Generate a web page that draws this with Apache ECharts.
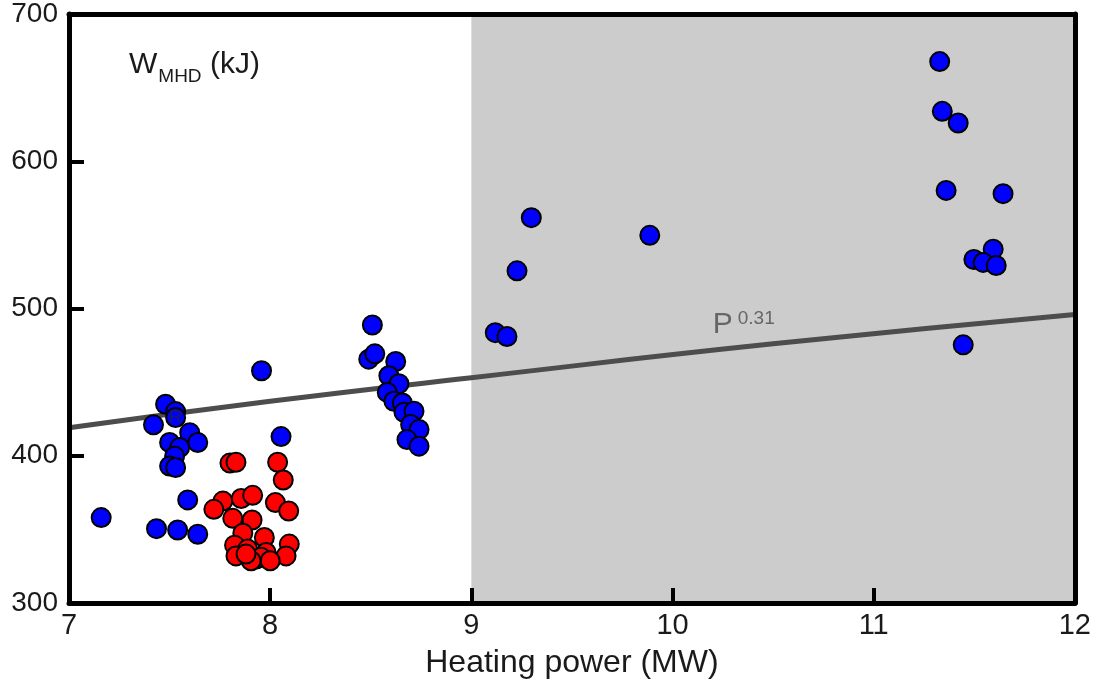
<!DOCTYPE html>
<html><head><meta charset="utf-8">
<script src="https://cdn.jsdelivr.net/npm/echarts@6/dist/echarts.min.js"></script>
<style>html,body{margin:0;padding:0;background:#fff}#c{width:1094px;height:684px}</style>
</head><body><div id="c"></div>
<script>
// Data
const xTicks = [7, 8, 9, 10, 11, 12];
const yTicks = [300, 400, 500, 600, 700];
const blueGroup = [
  [7.16,358],[7.435,350.5],[7.54,349.6],[7.64,346.7],[7.59,370],
  [7.42,421],[7.48,435],[7.60,415.7],[7.64,409],[7.50,409],[7.55,405.6],
  [7.525,399.7],[7.50,393],[7.53,392],[7.53,430],
  [7.957,457.7],[8.054,413],
  [8.508,488.8],[8.49,465.6],[8.52,469.2],[8.624,464],[8.59,454.3],[8.64,448.9],
  [8.582,443],[8.615,437],[8.657,435.8],[8.665,429.5],[8.715,430.2],[8.698,421.2],
  [8.74,417.8],[8.68,411],[8.74,406.5],
  [9.298,561.7],[9.227,525.6],[9.119,483.6],[9.177,481],[9.887,549.7],
  [11.328,667.7],[11.341,633.9],[11.42,626],[11.36,580.2],[11.643,578],
  [11.594,540.3],[11.498,533.3],[11.544,531.3],[11.609,529.2],[11.445,475.3]
];
const bluePointR = [[7.53,426]];
const redGroup = [
  [7.80,395],[7.83,395.6],[8.037,395.6],[8.065,383.5],
  [7.765,369.2],[7.72,363.6],[7.856,371],[7.913,373.1],[8.026,368.2],[8.092,362.5],
  [7.814,357.5],[7.91,356.4],[7.864,347.4],[7.971,344.5],[7.823,339.3],[7.888,336.6],
  [8.095,340],[8.079,332],[7.83,332],[7.93,329.8],[7.98,334.3],[7.955,331],
  [8.0,328.7],[7.905,328.7],[7.88,333.2]
];
const fitLine = [[7,419],[8,437],[9,453],[10.5,476],[12,496]];
const shadedRange = [9, 12];

const chart = echarts.init(document.getElementById('c'));
const font = 'Arial, "Liberation Sans", sans-serif';
const dot = (color) => ({
  type: 'scatter', symbol: 'circle', symbolSize: 19, z: 4,
  itemStyle: { color: color, borderColor: '#000', borderWidth: 2, opacity: 1 }
});
chart.setOption({
  animation: false,
  backgroundColor: '#fff',
  grid: { left: 69, right: 16, top: 13, bottom: 79, show: false },
  xAxis: [{
    type: 'value', min: 7, max: 12, interval: 1, z: 10,
    name: 'Heating power (MW)', nameLocation: 'middle', nameGap: 44,
    nameTextStyle: { fontFamily: font, fontSize: 32, color: '#1a1a1a' },
    axisLine: { show: true, onZero: false, lineStyle: { color: '#000', width: 5 } },
    axisTick: { show: true, inside: true, length: 15, lineStyle: { color: '#000', width: 4 } },
    axisLabel: { fontFamily: font, fontSize: 29, color: '#1a1a1a', margin: 8 },
    splitLine: { show: false }
  }, {
    type: 'value', min: 7, max: 12, position: 'top', z: 10,
    axisLine: { show: true, onZero: false, lineStyle: { color: '#000', width: 5 } },
    axisTick: { show: false }, axisLabel: { show: false }, splitLine: { show: false }
  }],
  yAxis: [{
    type: 'value', min: 300, max: 700, interval: 100, z: 10,
    axisLine: { show: true, onZero: false, lineStyle: { color: '#000', width: 5 } },
    axisTick: { show: true, inside: true, length: 15, lineStyle: { color: '#000', width: 4 } },
    axisLabel: { fontFamily: font, fontSize: 28, color: '#1a1a1a', margin: 11, padding: [6, 0, 0, 0] },
    splitLine: { show: false }
  }, {
    type: 'value', min: 300, max: 700, position: 'right', z: 10,
    axisLine: { show: true, onZero: false, lineStyle: { color: '#000', width: 5 } },
    axisTick: { show: false }, axisLabel: { show: false }, splitLine: { show: false }
  }],
  series: [
    {
      type: 'line', data: fitLine, symbol: 'none', z: 3, smooth: true,
      lineStyle: { color: '#4d4d4d', width: 5 },
      markArea: {
        silent: true,
        itemStyle: { color: '#cccccc' },
        data: [[{ xAxis: shadedRange[0] }, { xAxis: shadedRange[1] }]]
      }
    },
    Object.assign(dot('#0000ff'), { data: blueGroup }),
    Object.assign(dot('#ff0000'), { data: redGroup }),
    Object.assign(dot('#0000ff'), {
      data: bluePointR, z: 5,
      label: { show: true, position: 'inside', formatter: 'R', fontFamily: font, fontSize: 19, color: '#1a1a60' }
    })
  ]
});

const pP = chart.convertToPixel({ xAxisIndex: 0, yAxisIndex: 0 }, [10.2, 489]);
chart.setOption({
  graphic: [
    {
      type: 'text', left: 129, top: 50, z: 20,
      style: {
        text: '{w|W}{s|MHD}{w| (kJ)}',
        rich: {
          w: { fontFamily: font, fontSize: 30, fill: '#1a1a1a', verticalAlign: 'bottom' },
          s: { fontFamily: font, fontSize: 19, fill: '#1a1a1a', padding: [0, 0, -6, 1], verticalAlign: 'bottom' }
        }
      }
    },
    {
      type: 'text', x: pP[0], y: pP[1], z: 20,
      style: {
        text: '{p|P}{e|0.31}',
        verticalAlign: 'middle',
        rich: {
          p: { fontFamily: font, fontSize: 30, fill: '#666', verticalAlign: 'top' },
          e: { fontFamily: font, fontSize: 19, fill: '#666', padding: [0, 0, 11, 5], verticalAlign: 'top' }
        }
      }
    }
  ]
});
</script></body></html>
